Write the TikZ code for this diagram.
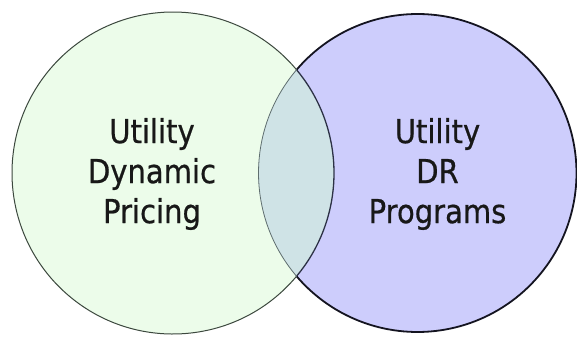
\documentclass[tikz,border=0pt]{standalone}
\usepackage{fontspec}
\setmainfont{DejaVu Sans}[FakeStretch=0.88,FakeBold=0.6]
\definecolor{leftfill}{RGB}{236,252,234}
\definecolor{rightfill}{RGB}{205,205,252}
\definecolor{midfill}{RGB}{207,227,230}
\definecolor{leftline}{RGB}{60,72,62}
\definecolor{rightline}{RGB}{20,20,32}
\definecolor{innerdark}{RGB}{45,50,70}
\definecolor{innerlight}{RGB}{95,110,110}
\definecolor{textcol}{RGB}{24,24,24}
\tikzset{
  label text/.style={font=\fontsize{33}{40}\selectfont, text=textcol, align=center, inner sep=0pt}
}
\begin{document}
\begin{tikzpicture}[x=1pt,y=-1pt]
\useasboundingbox[fill=white] (0,0) rectangle (577,337);
\coordinate (L) at (173,173);
\coordinate (R) at (417.5,173);
\def\rl{161}
\def\rr{159}
% fills
\fill[leftfill] (L) circle[radius=\rl];
\fill[rightfill] (R) circle[radius=\rr];
\begin{scope}
  \clip (L) circle[radius=\rl];
  \fill[midfill] (R) circle[radius=\rr];
\end{scope}
% outlines
\draw[leftline, line width=1pt] ([shift={(40:\rl)}]L) arc[start angle=40, end angle=320, radius=\rl];
\draw[innerdark, line width=1.3pt] ([shift={(-40:\rl)}]L) arc[start angle=-40, end angle=40, radius=\rl];
\draw[rightline, line width=1.8pt] ([shift={(-139.4:\rr)}]R) arc[start angle=-139.4, end angle=139.4, radius=\rr];
\draw[innerlight, line width=0.8pt] ([shift={(139.4:\rr)}]R) arc[start angle=139.4, end angle=220.6, radius=\rr];
% texts
\node[label text] (lt) at (152,174) {Utility\\Dynamic\\Pricing};
\node[label text] (rt) at (437.5,174) {Utility\\DR\\Programs};
\end{tikzpicture}
\end{document}
